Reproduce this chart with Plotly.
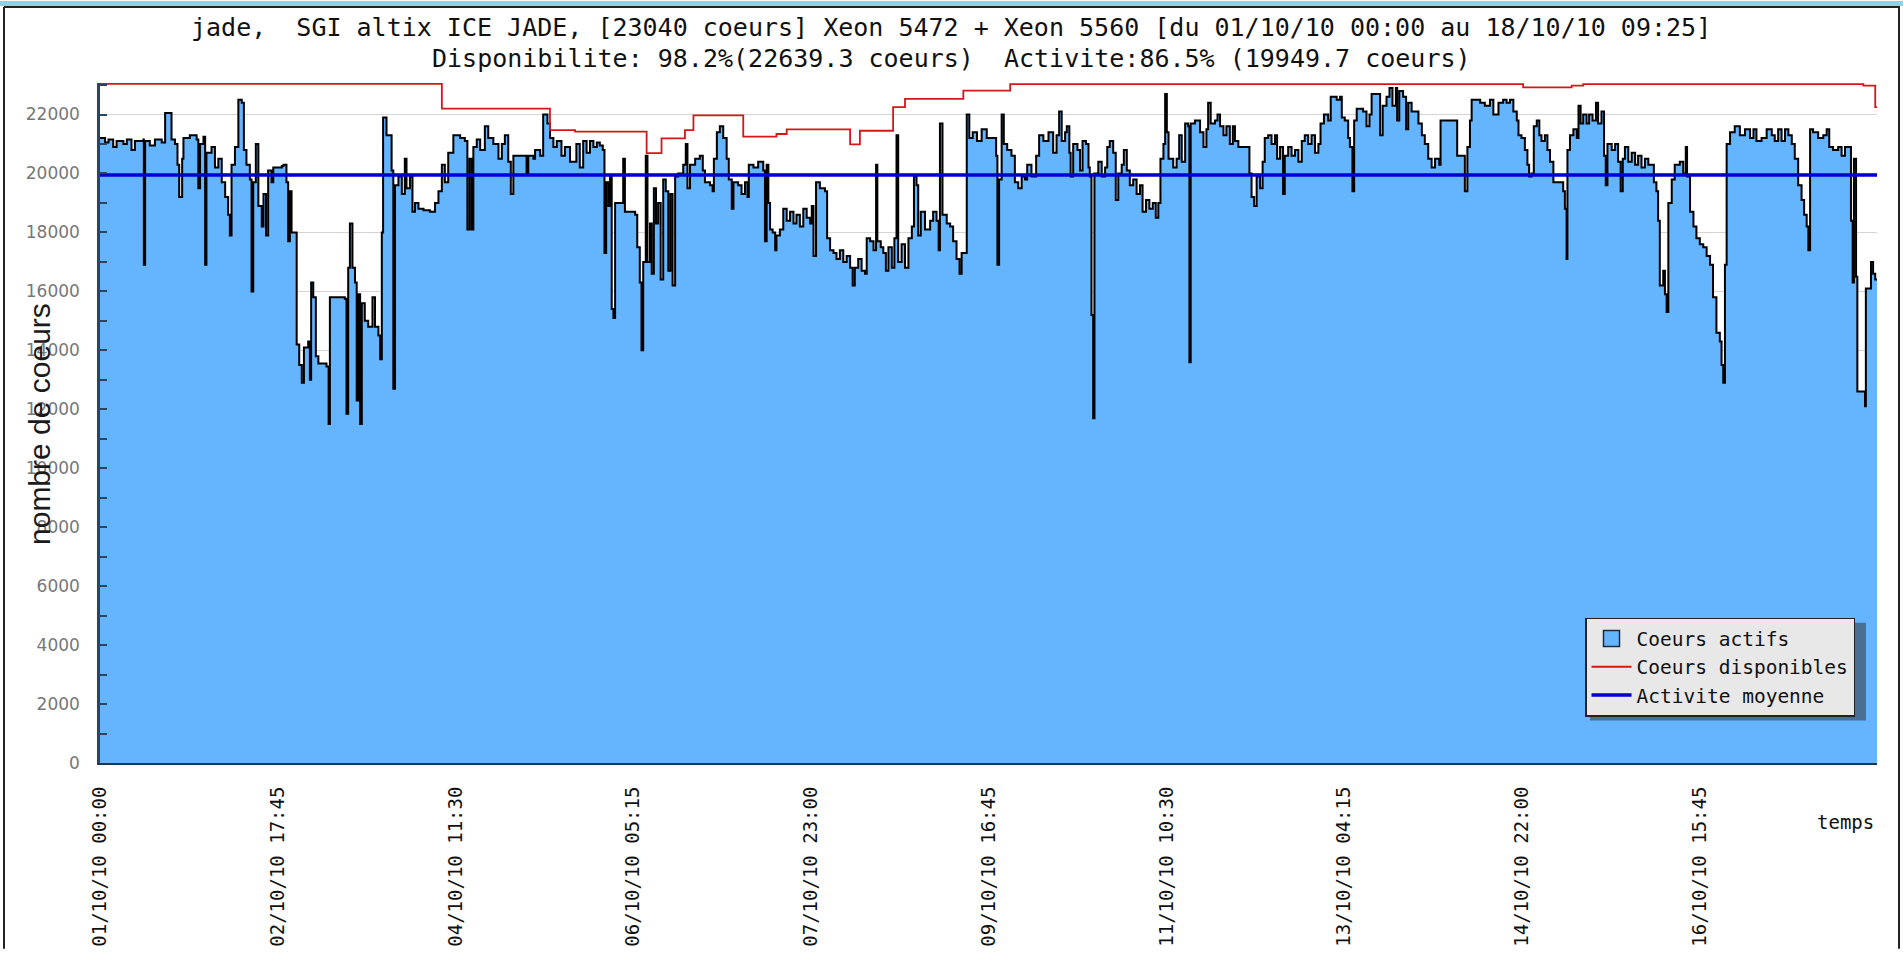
import plotly.graph_objects as go
import pandas as pd

# ---------------- data ----------------
START = pd.Timestamp("2010-10-01 00:00")
END = pd.Timestamp("2010-10-18 09:25")

# hours since 01/10/10 00:00  -> active cores (step series)
active_hours = [
    0.0, 1.2, 2.0, 3.1, 3.9, 5.5, 6.3, 7.4, 8.2, 10.2, 10.3, 10.6, 11.7, 12.9, 14.5, 15.3, 16.8, 17.6, 18.2, 18.6,
    19.3, 19.6, 21.1, 22.7, 23.1, 23.5, 24.3, 24.7, 25.0, 26.2, 27.0, 27.8, 28.6, 29.4, 30.1, 30.5, 30.9, 31.7, 32.5, 33.3,
    33.8, 34.4, 35.2, 35.6, 36.0, 36.6, 37.2, 38.0, 38.4, 39.0, 39.5, 40.3, 40.7, 42.7, 43.1, 43.8, 44.2, 44.6, 45.0, 46.2,
    46.8, 47.4, 47.9, 48.9, 49.3, 49.6, 50.1, 50.7, 51.3, 53.2, 53.7, 54.0, 57.5, 57.9, 58.3, 58.7, 59.3, 59.9, 60.3, 60.7,
    61.1, 61.5, 62.2, 63.0, 64.0, 64.6, 65.4, 65.8, 66.2, 66.5, 67.3, 68.5, 68.9, 69.3, 70.1, 70.9, 71.6, 72.0, 72.8, 73.4,
    74.0, 74.8, 76.0, 77.5, 78.7, 79.5, 80.3, 81.0, 81.8, 83.0, 84.6, 85.7, 86.3, 86.8, 87.3, 87.7, 88.5, 89.3, 90.4, 91.2,
    92.4, 93.6, 94.4, 95.1, 95.9, 96.5, 97.1, 99.4, 100.2, 100.6, 101.8, 102.2, 103.4, 104.1, 105.1, 105.7, 106.5, 107.3, 108.4, 109.2,
    110.4, 111.9, 112.7, 113.5, 114.3, 115.1, 115.9, 116.7, 117.4, 118.1, 118.5, 118.9, 119.4, 119.8, 120.2, 120.6, 121.0, 122.9, 123.3, 125.7,
    126.2, 126.8, 127.2, 127.6, 128.2, 128.6, 129.2, 129.6, 130.1, 130.6, 131.1, 131.7, 132.3, 132.9, 133.5, 134.0, 134.5, 135.1, 135.8, 137.0,
    137.6, 138.0, 138.6, 139.8, 140.9, 141.6, 142.1, 143.3, 143.9, 144.2, 144.9, 145.6, 146.4, 147.2, 147.7, 148.4, 148.8, 149.9, 150.7, 151.5,
    152.1, 152.4, 153.5, 154.6, 155.8, 156.2, 156.6, 157.0, 157.4, 158.0, 158.6, 158.9, 159.7, 160.5, 161.3, 162.1, 162.9, 163.6, 164.4, 165.2,
    166.0, 166.8, 167.2, 167.6, 168.2, 169.1, 170.3, 170.8, 171.5, 172.3, 173.0, 173.8, 174.6, 175.4, 176.2, 176.8, 177.3, 178.1, 178.9, 179.7,
    180.1, 180.9, 181.7, 182.3, 182.6, 183.4, 184.0, 184.6, 185.2, 186.0, 186.6, 187.1, 187.5, 188.3, 189.1, 189.9, 190.7, 191.2, 191.8, 192.2,
    192.8, 193.8, 195.0, 195.7, 196.5, 197.0, 197.3, 197.9, 198.9, 199.7, 200.4, 201.2, 201.9, 202.4, 203.6, 204.2, 205.0, 206.0, 207.1, 208.3,
    210.5, 210.8, 211.2, 211.8, 212.3, 213.1, 214.1, 214.9, 215.7, 216.5, 217.3, 217.8, 218.8, 219.9, 220.6, 221.6, 222.8, 223.9, 224.7, 225.3,
    225.9, 226.7, 227.1, 227.7, 228.0, 228.6, 229.6, 230.2, 230.8, 231.6, 232.2, 232.5, 232.9, 233.3, 233.6, 234.5, 235.3, 236.1, 236.6, 237.2,
    238.0, 238.6, 239.2, 240.0, 240.5, 241.2, 241.9, 242.7, 243.5, 244.3, 244.9, 245.7, 246.5, 247.3, 248.0, 248.6, 249.1, 249.8, 250.2, 250.6,
    251.0, 252.1, 252.9, 253.5, 254.1, 254.9, 255.6, 255.9, 256.2, 257.2, 258.4, 259.2, 259.9, 260.3, 260.9, 261.9, 262.5, 263.1, 263.9, 264.6,
    265.4, 266.1, 266.6, 267.4, 270.0, 270.5, 271.1, 271.7, 272.5, 273.1, 273.6, 274.4, 275.2, 276.0, 276.5, 277.2, 277.9, 278.3, 279.1, 279.9,
    280.7, 281.5, 282.3, 283.0, 283.8, 284.6, 285.4, 286.2, 286.7, 287.5, 288.5, 289.1, 290.5, 291.3, 291.7, 292.4, 293.2, 293.6, 294.2, 294.6,
    295.2, 296.7, 297.5, 298.2, 298.7, 300.7, 301.3, 302.2, 302.9, 303.6, 304.4, 304.7, 305.2, 306.1, 306.8, 307.3, 308.1, 309.7, 310.5, 311.2,
    312.0, 312.8, 313.6, 314.6, 314.9, 318.8, 320.6, 321.2, 321.8, 322.2, 324.2, 325.3, 326.5, 327.3, 328.5, 329.6, 330.4, 331.2, 332.0, 332.8,
    333.2, 333.9, 334.7, 335.3, 335.7, 336.3, 336.8, 337.5, 338.1, 338.6, 339.4, 340.0, 340.6, 341.4, 343.7, 344.1, 344.5, 344.7, 345.3, 346.1,
    346.9, 347.3, 347.8, 348.4, 349.2, 349.8, 350.6, 351.4, 351.9, 352.7, 353.3, 353.7, 354.1, 355.1, 355.9, 356.6, 357.2, 357.7, 358.2, 359.0,
    359.8, 360.6, 361.3, 362.1, 362.9, 363.7, 365.0, 365.6, 366.0, 366.4, 367.2, 367.6, 368.0, 368.4, 369.2, 369.9, 371.1, 371.9, 372.5, 372.8,
    373.5, 374.3, 375.0, 375.8, 376.6, 377.4, 378.2, 378.9, 379.7, 380.5, 380.9, 381.3, 381.7, 382.1, 382.9, 384.0, 385.2, 386.4, 387.6, 388.4,
    389.1, 390.3, 391.5, 392.7, 393.4, 394.2, 395.0, 395.8, 396.6, 397.4, 398.1, 398.9, 399.7, 400.3, 400.9, 401.3, 401.7, 402.4, 403.6, 404.8,
    405.6, 406.2, 407.1, 408.3, 409.1, 409.9, 411.3, 411.7, 412.0, 412.5, 412.8, 414.6, 414.8, 416.0, 416.5, 417.0, 417.42,
]
active_cores = [
    21200, 21050, 21150, 20900, 21100, 21000, 21150, 20800, 21100, 21150, 16900, 21100, 20950, 21150, 21050, 22050, 21150, 21000, 20300, 19200,
    20500, 21200, 21300, 21150, 19500, 21000, 21250, 16900, 20700, 20900, 20200, 20500, 19700, 19200, 18600, 17900, 20300, 20900, 22500, 22400,
    20800, 20300, 19800, 16000, 19700, 21000, 18900, 18200, 19300, 17900, 20100, 19700, 20200, 20250, 20300, 19700, 17700, 19400, 18000, 14200,
    13500, 12900, 14100, 14300, 13000, 16300, 15800, 13800, 13550, 13450, 11500, 15800, 15750, 11850, 16800, 18300, 16800, 16300, 12300, 15900,
    11500, 15600, 15000, 14800, 15800, 14800, 14500, 13700, 18000, 21900, 21300, 20100, 12700, 19600, 19900, 19300, 20500, 19500, 19900, 18700,
    19000, 18800, 18750, 18700, 19000, 19400, 20300, 19700, 20700, 21300, 21200, 21100, 18100, 20500, 18100, 20900, 21150, 20800, 21600, 21200,
    21000, 20500, 21000, 21300, 20400, 19300, 20600, 20600, 20000, 20600, 20500, 20800, 20600, 22000, 21700, 21200, 20900, 21100, 20600, 20900,
    20400, 21000, 20200, 21100, 20700, 21100, 20900, 21050, 20950, 20800, 17300, 19700, 18900, 19900, 15400, 15100, 19000, 20500, 18700, 18600,
    17500, 16300, 14000, 17000, 20600, 17000, 18300, 16600, 19500, 18300, 19000, 16400, 19800, 19400, 16700, 19300, 16200, 19900, 20000, 20300,
    21000, 19500, 20300, 20500, 20600, 20100, 19700, 19600, 19400, 20500, 21400, 21600, 21200, 20500, 19800, 18800, 19700, 19600, 19300, 19700,
    19200, 20300, 20200, 20400, 20100, 17700, 20300, 19000, 18100, 18000, 17400, 17900, 18100, 18800, 18400, 18700, 18300, 18600, 18200, 18800,
    18500, 18300, 18900, 17200, 19700, 19500, 19400, 17800, 17400, 17300, 17100, 17400, 17000, 17200, 16800, 16200, 16800, 17100, 16700, 16600,
    17800, 17700, 17400, 20300, 17700, 17500, 17300, 16700, 17500, 16800, 17800, 21300, 17000, 17600, 16800, 17800, 18200, 19900, 19600, 17900,
    18700, 18100, 18400, 18700, 18400, 17400, 21700, 18600, 18300, 18200, 17700, 17100, 16600, 17300, 22000, 21200, 21400, 21100, 21500, 21200,
    20600, 16900, 19800, 22000, 21000, 20800, 20600, 19700, 19500, 19900, 19800, 20300, 19900, 20600, 21300, 21100, 21400, 20700, 21300, 22100,
    21100, 21400, 21600, 20700, 19900, 21000, 20800, 20100, 21100, 21000, 20200, 19900, 15200, 11700, 20000, 20400, 19900, 20200, 20900, 21100,
    20700, 19100, 20000, 20300, 20800, 20100, 19600, 19800, 19300, 19600, 18700, 19100, 18800, 19000, 18500, 19000, 20500, 21000, 22700, 21400,
    20500, 20200, 20500, 21300, 20400, 21700, 21600, 13600, 21700, 21800, 21400, 20900, 21500, 22400, 21700, 21800, 22000, 21600, 21300, 21600,
    21000, 21600, 21100, 20900, 20000, 19200, 18900, 19900, 19500, 20400, 21200, 21300, 21000, 21300, 20500, 20900, 19300, 20600, 20900, 20600,
    20800, 20400, 21100, 21300, 21000, 21300, 20700, 21000, 21700, 22000, 21800, 22600, 22500, 22600, 21900, 21800, 21200, 20900, 19400, 21800,
    22200, 22100, 21600, 22000, 22700, 21300, 22300, 22600, 22900, 22300, 22900, 21800, 22800, 22600, 21500, 22400, 22100, 21700, 21300, 21000,
    20500, 20200, 20500, 20300, 21800, 20600, 19400, 20900, 21800, 22500, 22400, 22300, 22500, 22000, 22400, 22500, 22400, 22500, 22100, 21800,
    21300, 21200, 20800, 20300, 19900, 20000, 21600, 21800, 21300, 21100, 21300, 20800, 20400, 19700, 19400, 18800, 17100, 20800, 21300, 21500,
    21200, 22300, 21700, 22000, 21700, 22000, 21800, 22400, 21700, 22100, 20600, 19600, 21000, 20800, 21000, 20400, 19400, 20500, 20900, 20400,
    20700, 20300, 20600, 20200, 20500, 20300, 19700, 19400, 18400, 16200, 16700, 15900, 15300, 19000, 19800, 20300, 20400, 20000, 20900, 19900,
    18700, 18200, 17800, 17600, 17500, 17200, 16900, 15800, 14600, 14300, 13500, 12900, 16900, 21000, 21400, 21600, 21300, 21500, 21200, 21500,
    21100, 21200, 21500, 21300, 21100, 21500, 21100, 21500, 21300, 21000, 20500, 19600, 19100, 18600, 18200, 17400, 21500, 21400, 21200, 21300,
    21500, 20900, 20800, 20900, 20600, 20900, 18400, 16300, 20500, 16500, 12600, 12100, 16100, 17000, 16600, 16400, 16400,
]

# available cores (step series)
dispo_hours = [0.0, 80.3, 105.7, 111.6, 128.4, 131.9, 137.4, 139.4, 151.1, 158.9, 161.3, 176.2, 178.5,
               186.3, 189.1, 202.8, 213.8, 334.3, 345.7, 348.4, 414.2, 417.0, 417.42]
dispo_cores = [23040, 22200, 21470, 21420, 20690, 21190, 21470, 21970, 21250, 21340, 21500, 20990, 21450,
               22250, 22530, 22810, 23030, 22920, 22980, 23030, 22980, 22250, 22250]

mean_activity = 19949.7

tick_hours = [0, 41.75, 83.5, 125.25, 167.0, 208.75, 250.5, 292.25, 334.0, 375.75]
tick_labels = ["01/10/10 00:00", "02/10/10 17:45", "04/10/10 11:30", "06/10/10 05:15", "07/10/10 23:00",
               "09/10/10 16:45", "11/10/10 10:30", "13/10/10 04:15", "14/10/10 22:00", "16/10/10 15:45"]

title_line1 = "jade,  SGI altix ICE JADE, [23040 coeurs] Xeon 5472 + Xeon 5560 [du 01/10/10 00:00 au 18/10/10 09:25]"
title_line2 = "Disponibilite: 98.2%(22639.3 coeurs)  Activite:86.5% (19949.7 coeurs)"

# ---------------- helpers ----------------
def to_dates(hours):
    return [START + pd.Timedelta(hours=h) for h in hours]

W, H = 1903, 959
L, R, T, B = 100, 1877, 83, 771   # plot area in pixels


def px(x):
    return (x - L) / (R - L)


def py(y):
    return (B - y) / (B - T)


MONO = "DejaVu Sans Mono"
FILL = "#65b5fe"

fig = go.Figure()

# legend-only entry (square swatch)
fig.add_trace(go.Scatter(
    x=[None], y=[None], mode="markers", name="Coeurs actifs",
    marker=dict(symbol="square", size=17, color=FILL, line=dict(color="#1c2a3a", width=1.5)),
))
# active cores: filled area with black step line
fig.add_trace(go.Scatter(
    x=to_dates(active_hours), y=active_cores, mode="lines", showlegend=False,
    line=dict(color="black", width=2, shape="hv"), fill="tozeroy", fillcolor=FILL,
    hoverinfo="x+y",
))
# available cores
fig.add_trace(go.Scatter(
    x=to_dates(dispo_hours), y=dispo_cores, mode="lines", name="Coeurs disponibles",
    line=dict(color="#d41818", width=1.8, shape="hv"),
))
# mean activity
fig.add_trace(go.Scatter(
    x=[START, END], y=[mean_activity, mean_activity], mode="lines", name="Activite moyenne",
    line=dict(color="#0000d0", width=3.5),
))

annotations = [
    dict(text=title_line1, x=px(951), y=py(27), xref="paper", yref="paper", showarrow=False,
         xanchor="center", yanchor="middle", font=dict(family=MONO, size=25, color="#111")),
    dict(text=title_line2, x=px(951), y=py(58), xref="paper", yref="paper", showarrow=False,
         xanchor="center", yanchor="middle", font=dict(family=MONO, size=25, color="#111")),
    dict(text="nombre de coeurs", x=px(40), y=py(428), xref="paper", yref="paper", showarrow=False,
         textangle=-90, xanchor="center", yanchor="middle",
         font=dict(family="Liberation Sans", size=30, color="#1a1a1a")),
    dict(text="temps", x=px(1845), y=py(831), xref="paper", yref="paper", showarrow=False,
         xanchor="center", yanchor="middle", font=dict(family=MONO, size=19, color="#111")),
]

shapes = [
    # top cyan strip of the window frame
    dict(type="rect", xref="paper", yref="paper", x0=px(0), x1=px(W), y0=py(0), y1=py(5),
         fillcolor="#88d4f2", line=dict(width=0), layer="above"),
    dict(type="line", xref="paper", yref="paper", x0=px(4), x1=px(1900), y0=py(6), y1=py(6),
         line=dict(color="#222", width=2), layer="above"),
    dict(type="line", xref="paper", yref="paper", x0=px(4), x1=px(4), y0=py(6), y1=py(959),
         line=dict(color="#222", width=2), layer="above"),
    dict(type="line", xref="paper", yref="paper", x0=px(1899), x1=px(1899), y0=py(6), y1=py(959),
         line=dict(color="#222", width=2), layer="above"),
    # legend drop shadow
    dict(type="rect", xref="paper", yref="paper", x0=px(1590), x1=px(1866), y0=py(728), y1=py(629),
         fillcolor="#4a6f94", line=dict(width=0), layer="above"),
]

fig.update_layout(
    width=W, height=H,
    margin=dict(l=L, r=W - R, t=T, b=H - B, pad=0),
    paper_bgcolor="white", plot_bgcolor="white",
    showlegend=True,
    legend=dict(x=px(1585), y=py(624), xanchor="left", yanchor="top",
                bgcolor="#e8e8e8", bordercolor="#222", borderwidth=1.5,
                font=dict(family=MONO, size=19.5, color="#111"), itemwidth=40, tracegroupgap=0),
    annotations=annotations,
    shapes=shapes,
    xaxis=dict(
        type="date", range=[START, END],
        tickmode="array", tickvals=to_dates(tick_hours), ticktext=tick_labels,
        tickangle=-90, tickfont=dict(family=MONO, size=19, color="#111"),
        ticks="", showgrid=False, zeroline=False,
        showline=True, linecolor="#1d3557", linewidth=2, ticklabelstandoff=14,
    ),
    yaxis=dict(
        range=[0, 23070], tickmode="linear", tick0=0, dtick=2000, tickformat="d",
        tickfont=dict(family="DejaVu Sans", size=17, color="#777"),
        ticks="inside", ticklen=7, tickcolor="#2b4460", tickwidth=1.5,
        minor=dict(ticks="inside", ticklen=7, dtick=1000, tickcolor="#2b4460", showgrid=False),
        showgrid=True, gridcolor="#d4d4d4", gridwidth=1, zeroline=False,
        showline=True, linecolor="#2b4460", linewidth=2.5, ticklabelstandoff=14,
    ),
    hovermode="closest",
)

fig.write_html("out.html")
